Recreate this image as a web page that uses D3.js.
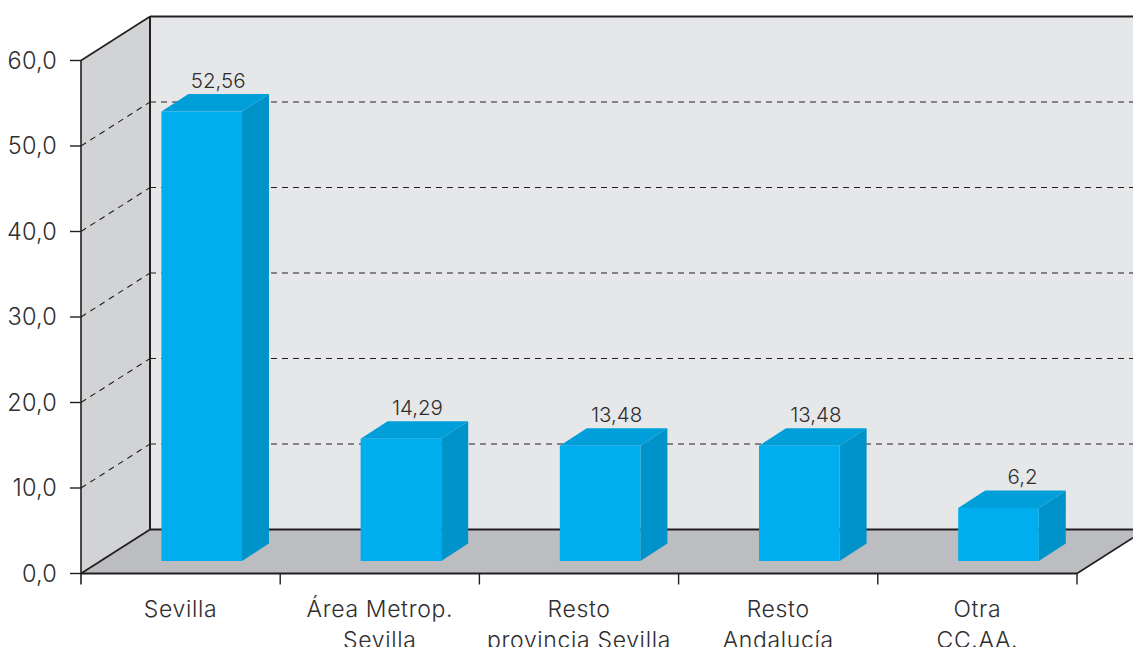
<!DOCTYPE html>
<html><head><meta charset="utf-8">
<script src="https://cdn.jsdelivr.net/npm/d3@7/dist/d3.min.js"></script>
<style>html,body{margin:0;padding:0;background:#fff;overflow:hidden}svg{display:block}text{font-family:Inter,Lato,sans-serif;font-weight:300;fill:#2f2e30}</style>
</head><body><svg id="c" width="1133" height="647"></svg>
<script>
const categories = [["Sevilla"],["Área Metrop.","Sevilla"],["Resto","provincia Sevilla"],["Resto","Andalucía"],["Otra","CC.AA."]];
const values = [52.56,14.29,13.48,13.48,6.2];
const valueLabels = ["52,56","14,29","13,48","13,48","6,2"];
const yTicks = [0,10,20,30,40,50,60];
const yTickLabels = ["0,0","10,0","20,0","30,0","40,0","50,0","60,0"];

const W=[81,1077], Y0=573.5, Y60=60.5, dx=69, dy=-44;
const svg=d3.select("#c");
const y=d3.scaleLinear().domain([0,60]).range([Y0,Y60]);
const x=d3.scaleBand().domain(d3.range(categories.length)).range(W);
const ink="#231f20";
const poly=(pts,fill)=>svg.append("polygon").attr("points",pts.map(p=>p.join(",")).join(" ")).attr("fill",fill);
const line=(a,b,w,col,dash)=>svg.append("line").attr("x1",a[0]).attr("y1",a[1]).attr("x2",b[0]).attr("y2",b[1]).attr("stroke",col||ink).attr("stroke-width",w).attr("stroke-dasharray",dash||null);

const bx=W[0]+dx, wallTop=y(60)+dy, wallBot=y(0)+dy, edgeY=y(0)+(1133-W[1])*dy/dx;
poly([[bx,wallTop],[1133,wallTop],[1133,wallBot],[bx,wallBot]],"#e6e7e9");
poly([[W[0],y(60)],[bx,wallTop],[bx,wallBot],[W[0],y(0)]],"#d1d3d5");
poly([[W[0],y(0)],[bx,wallBot],[1133,wallBot],[1133,edgeY],[W[1],y(0)]],"#bcbdc0");

yTicks.filter(t=>t>0&&t<60).forEach(t=>{
  line([W[0],y(t)],[bx,y(t)+dy],1.1,ink,"6,5");
  line([bx,y(t)+dy],[1133,y(t)+dy],1.1,ink,"6,5");
});
line([bx,wallTop],[1133,wallTop],2);
line([bx,wallTop],[bx,wallBot],2);
line([W[0],y(60)],[bx,wallTop],1.6);
line([W[0],y(0)],[bx,wallBot],1.8);
line([bx,wallBot],[1133,wallBot],2);
line([W[0],y(60)],[W[0],y(0)+11],1.6);
line([W[0],y(0)],[W[1],y(0)],2);
line([W[1],y(0)],[1133,edgeY],1.6);
yTicks.forEach((t,i)=>{
  line([70,y(t)],[W[0],y(t)],1.4);
  svg.append("text").attr("x",57).attr("y",y(t)).attr("dy","0.36em").attr("text-anchor","end").attr("font-size",23.5).attr("letter-spacing",0.2).text(yTickLabels[i]);
});
d3.range(1,categories.length+1).forEach(i=>{
  const px=W[0]+i*x.step();
  line([px,y(0)],[px,y(0)+11],1.4);
});
categories.forEach((c,i)=>{
  c.forEach((s,j)=>svg.append("text").attr("x",x(i)+x.step()/2).attr("y",616.5+j*31).attr("text-anchor","middle").attr("font-size",23).attr("letter-spacing",0.65).text(s));
});
const barOff=80.4, barW=80.6, ddx=27, ddy=-17.5, lift=12.5;
const by0=v=>y(v)-lift;
values.forEach((v,i)=>{
  const l=x(i)+barOff, r=l+barW, t=by0(v), b=by0(0);
  poly([[l,t],[l+ddx,t+ddy],[r+ddx,t+ddy],[r,t]],"#009fda");
  poly([[r,t],[r+ddx,t+ddy],[r+ddx,b+ddy],[r,b]],"#0093c9");
  poly([[l,t],[r,t],[r,b],[l,b]],"#00adee");
  svg.append("text").attr("x",l+barW/2+(i==4?24:16.5)).attr("y",t+ddy-6).attr("text-anchor","middle").attr("font-size",20.5).text(valueLabels[i]);
});
</script></body></html>
